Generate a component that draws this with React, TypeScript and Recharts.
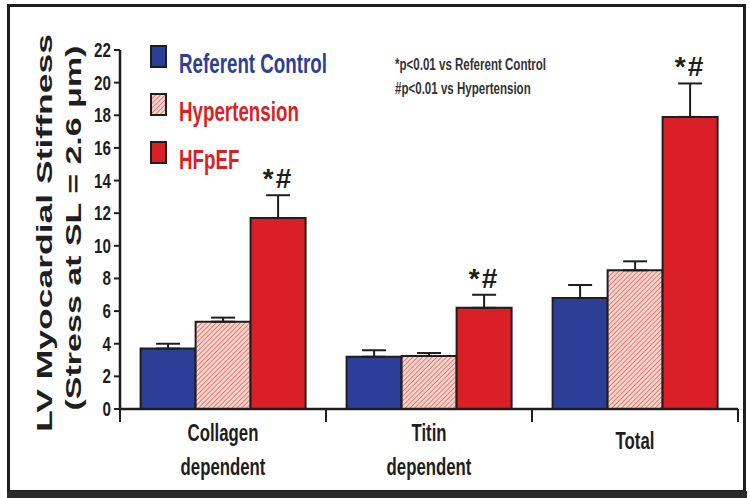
import { BarChart, Bar, XAxis, YAxis, ErrorBar, LabelList } from "recharts";

// group labels along the x axis
const categories = ["Collagen dependent", "Titin dependent", "Total"];

// mean stiffness and SEM for each group
const referentControl = [3.7, 3.2, 6.8];
const referentControlSem = [0.3, 0.4, 0.8];
const hypertension = [5.35, 3.25, 8.5];
const hypertensionSem = [0.25, 0.18, 0.55];
const hfpef = [11.7, 6.2, 17.9];
const hfpefSem = [1.4, 0.8, 2.05];
const hfpefMarks = ["*#", "*#", "*#"];

const yTicks = [0, 2, 4, 6, 8, 10, 12, 14, 16, 18, 20, 22];
const footnotes = ["*p<0.01 vs Referent Control", "#p<0.01 vs Hypertension"];
const yTitle = ["LV Myocardial Stiffness", "(Stress at SL = 2.6 \u03bcm)"];

const W = 750;
const H = 498;
const Y_AXIS_W = 120;
const X_AXIS_H = 89;
const MARGIN = { top: 50, right: 12, bottom: 0, left: 0 };
const AXIS_Y = H - MARGIN.bottom - X_AXIS_H;
const BAND = (W - MARGIN.right - Y_AXIS_W) / categories.length;

const BLUE = "#2c3f98";
const RED = "#da1f27";
const INK = "#1e1e1e";
const FONT = "'Liberation Sans', Arial, sans-serif";

const series = [
  { key: "control", err: "controlErr", name: "Referent Control", fill: BLUE, text: BLUE },
  { key: "hypertension", err: "hypertensionErr", name: "Hypertension", fill: "url(#hatch)", text: RED },
  { key: "hfpef", err: "hfpefErr", name: "HFpEF", fill: RED, text: RED },
];

const data = categories.map((name, i) => ({
  name,
  control: referentControl[i],
  controlErr: [0, referentControlSem[i]],
  hypertension: hypertension[i],
  hypertensionErr: [0, hypertensionSem[i]],
  hfpef: hfpef[i],
  hfpefErr: [0, hfpefSem[i]],
}));

function ValueTick(props: any) {
  const { x, y, payload } = props;
  return (
    <text
      transform={`translate(${x - 1},${y + 7}) scale(0.76,1)`}
      textAnchor="end"
      fontFamily={FONT}
      fontWeight={700}
      fontSize={20}
      fill={INK}
    >
      {payload.value}
    </text>
  );
}

function CategoryTick(props: any) {
  const { x, payload, index } = props;
  const lines = String(payload.value).split(" ");
  const baselines = lines.length > 1 ? [AXIS_Y + 32, AXIS_Y + 66] : [AXIS_Y + 40];
  const last = index === categories.length - 1;
  return (
    <g>
      <line x1={x - BAND / 2} x2={x - BAND / 2} y1={AXIS_Y} y2={AXIS_Y + 13} stroke={INK} strokeWidth={2} />
      {last && <line x1={x + BAND / 2} x2={x + BAND / 2} y1={AXIS_Y} y2={AXIS_Y + 13} stroke={INK} strokeWidth={2} />}
      {lines.map((t, i) => (
        <text
          key={t}
          transform={`translate(${x},${baselines[i]}) scale(0.7,1)`}
          textAnchor="middle"
          fontFamily={FONT}
          fontWeight={700}
          fontSize={24}
          fill={INK}
        >
          {t}
        </text>
      ))}
    </g>
  );
}

function SignificanceLabel(props: any) {
  const vb = props.viewBox ?? props;
  const value = Number(props.value);
  const idx = props.index ?? hfpef.indexOf(value);
  const pxPerUnit = vb.height / value;
  const top = vb.y - hfpefSem[idx] * pxPerUnit;
  return (
    <text
      x={vb.x + vb.width / 2}
      y={top - 7}
      textAnchor="middle"
      fontFamily={FONT}
      fontWeight={700}
      fontSize={28}
      letterSpacing={2}
      fill={INK}
    >
      {hfpefMarks[idx]}
    </text>
  );
}

function HatchDefs({ id }: { id: string }) {
  return (
    <defs>
      <pattern id={id} width={3.4} height={3.4} patternUnits="userSpaceOnUse" patternTransform="rotate(45)">
        <rect width={3.4} height={3.4} fill="#f6d3cc" />
        <line x1={0} y1={0} x2={0} y2={3.4} stroke="#e2675c" strokeWidth={1.6} />
      </pattern>
    </defs>
  );
}

function Overlay() {
  return (
    <svg width={W} height={H} style={{ position: "absolute", left: 0, top: 0, pointerEvents: "none" }}>
      <HatchDefs id="hatchLegend" />
      <rect x={8.5} y={5.5} width={736} height={486} fill="none" stroke={INK} strokeWidth={3} />
      <rect x={7} y={491} width={740} height={7} fill="#2a2a2a" />

      {yTitle.map((t, i) => (
        <text
          key={t}
          transform={`translate(${i === 0 ? 52 : 81},${i === 0 ? 233 : 228}) rotate(-90) scale(1,0.64)`}
          textAnchor="middle"
          fontFamily={FONT}
          fontWeight={700}
          fontSize={i === 0 ? 35.5 : 34}
          fill={INK}
        >
          {t}
        </text>
      ))}

      {series.map((s, i) => {
        const top = 46 + i * 48;
        return (
          <g key={s.key}>
            <rect
              x={151}
              y={top}
              width={15}
              height={21}
              fill={s.key === "hypertension" ? "url(#hatchLegend)" : s.fill}
              stroke={INK}
              strokeWidth={2}
            />
            <text
              transform={`translate(179,${top + 27}) scale(0.67,1)`}
              fontFamily={FONT}
              fontWeight={700}
              fontSize={28}
              fill={s.text}
            >
              {s.name}
            </text>
          </g>
        );
      })}

      {footnotes.map((t, i) => (
        <text
          key={t}
          transform={`translate(395,${70 + i * 24}) scale(0.68,1)`}
          fontFamily={FONT}
          fontWeight={700}
          fontSize={17}
          fill="#333"
        >
          {t}
        </text>
      ))}
    </svg>
  );
}

export default function App() {
  return (
    <div style={{ position: "absolute", left: 0, top: 0, width: W, height: H, background: "#fff" }}>
      <BarChart width={W} height={H} data={data} margin={MARGIN} barCategoryGap="10%" barGap={0}>
        <HatchDefs id="hatch" />
        <XAxis
          dataKey="name"
          height={X_AXIS_H}
          axisLine={{ stroke: INK, strokeWidth: 2.5 }}
          tickLine={false}
          tickSize={0}
          tickMargin={0}
          tick={<CategoryTick />}
          interval={0}
        />
        <YAxis
          width={Y_AXIS_W}
          domain={[0, 22]}
          ticks={yTicks}
          interval={0}
          axisLine={{ stroke: INK, strokeWidth: 2.5 }}
          tickLine={{ stroke: INK, strokeWidth: 2 }}
          tickSize={6}
          tickMargin={2}
          tick={<ValueTick />}
        />
        {series.map((s) => (
          <Bar key={s.key} dataKey={s.key} name={s.name} fill={s.fill} stroke={INK} strokeWidth={2} isAnimationActive={false}>
            <ErrorBar dataKey={s.err} direction="y" width={12} stroke={INK} strokeWidth={2} />
            {s.key === "hfpef" && <LabelList dataKey="hfpef" content={<SignificanceLabel />} />}
          </Bar>
        ))}
      </BarChart>
      <Overlay />
    </div>
  );
}
